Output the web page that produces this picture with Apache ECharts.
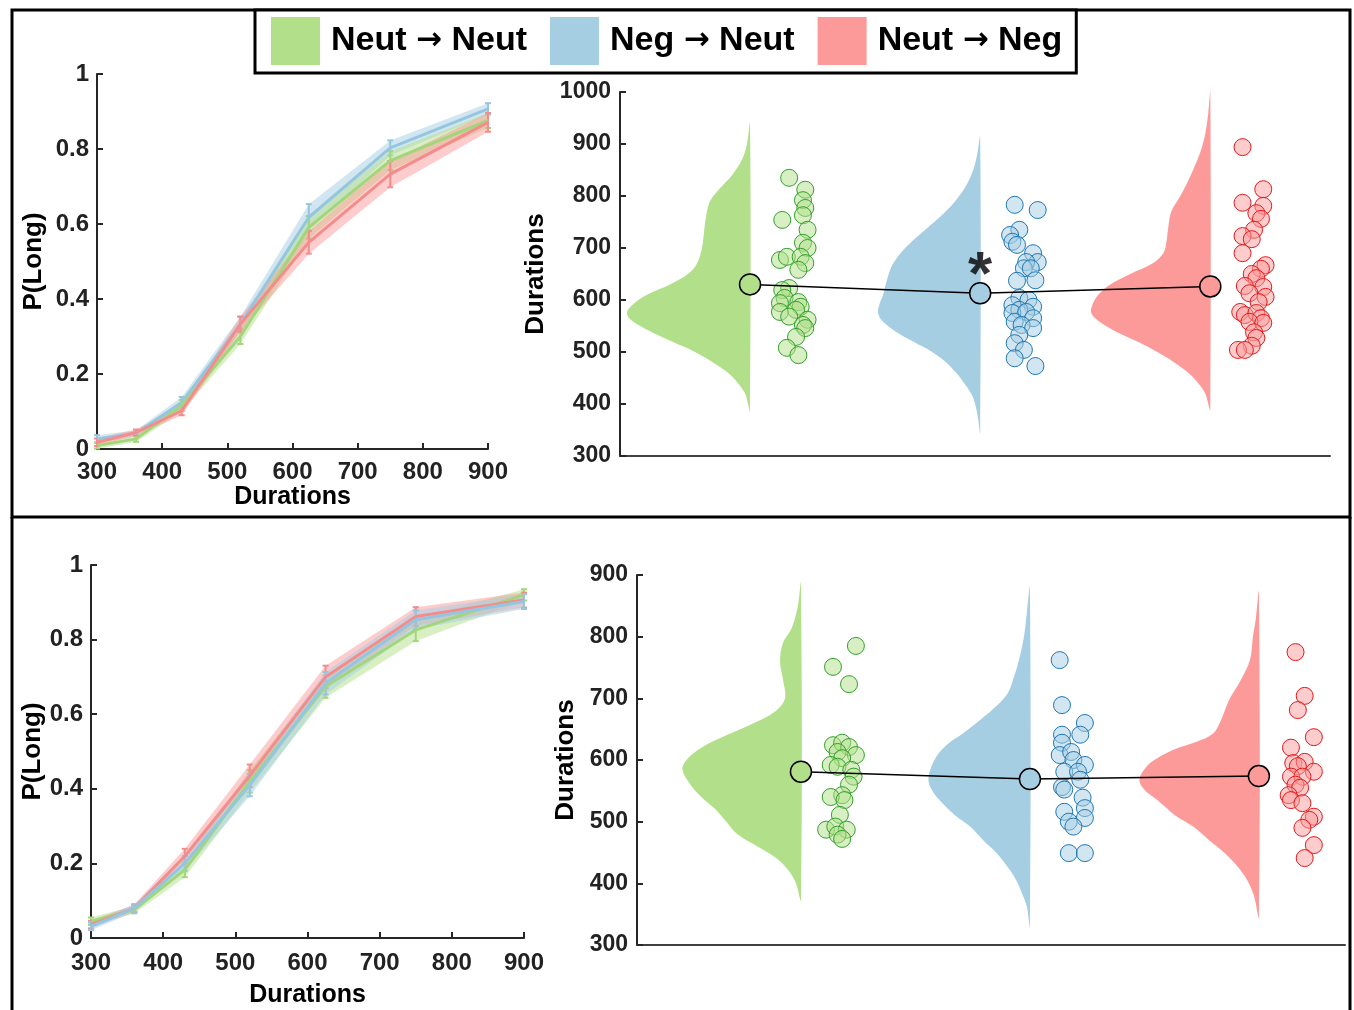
<!DOCTYPE html>
<html>
<head>
<meta charset="utf-8">
<title>Durations</title>
<script src="https://cdn.jsdelivr.net/npm/echarts@6/dist/echarts.min.js"></script>
<style>
  html, body { margin: 0; padding: 0; background: #fff; }
  #main { width: 1354px; height: 1010px; }
</style>
</head>
<body>
<div id="main"></div>
<script>
// conditions
var conditions = ['Neut → Neut', 'Neg → Neut', 'Neut → Neg'];
var lightColors = ['#b2df8a', '#a6cee3', '#fb9a99'];
var darkColors = ['#33a02c', '#1f78b4', '#e31a1c'];
var lineColors = ['#a3d67a', '#95c6e0', '#f58c8c'];
var dotFill = ['rgba(178,223,138,0.5)', 'rgba(166,206,227,0.5)', 'rgba(251,154,153,0.5)'];

// psychometric data (P(Long) by duration)
var durations = [300, 360, 430, 520, 625, 750, 900];
var topNeutNeut = [0.009, 0.027, 0.116, 0.30, 0.591, 0.769, 0.876];
var topNegNeut = [0.027, 0.042, 0.124, 0.333, 0.618, 0.803, 0.907];
var topNeutNeg = [0.018, 0.044, 0.102, 0.333, 0.551, 0.733, 0.871];
var topSemNeutNeut = [0.008, 0.008, 0.015, 0.02, 0.03, 0.025, 0.02];
var topSemNegNeut = [0.01, 0.008, 0.015, 0.02, 0.035, 0.02, 0.015];
var topSemNeutNeg = [0.01, 0.008, 0.012, 0.02, 0.03, 0.035, 0.025];

var botNeutNeut = [0.045, 0.076, 0.183, 0.42, 0.674, 0.826, 0.92];
var botNegNeut = [0.031, 0.08, 0.20, 0.41, 0.683, 0.853, 0.902];
var botNeutNeg = [0.036, 0.08, 0.219, 0.435, 0.70, 0.862, 0.906];
var botSemNeutNeut = [0.01, 0.01, 0.02, 0.03, 0.03, 0.03, 0.015];
var botSemNegNeut = [0.01, 0.01, 0.02, 0.03, 0.03, 0.025, 0.02];
var botSemNeutNeg = [0.01, 0.01, 0.02, 0.03, 0.03, 0.025, 0.02];

// raincloud means
var topMeans = [630, 613, 626];
var botMeans = [581, 569, 574];

// violin density shapes [duration, density]
var topDensNeutNeut = [[940,0],[900,3],[870,8],[840,18],[815,30],[790,40],[760,44],[730,46],[700,48],[670,53],[650,62],[630,80],[610,103],[590,118],[575,123],[560,118],[540,100],[520,78],[500,55],[480,37],[460,22],[440,12],[420,5],[400,2],[385,0]];
var topDensNegNeut = [[913,0],[880,3],[850,7],[820,14],[790,25],[760,40],[730,58],[700,75],[670,87],[640,93],[610,97],[590,101],[575,102],[560,98],[540,85],[520,67],[500,48],[480,34],[460,24],[440,16],[420,9],[400,5],[370,2],[344,0]];
var topDensNeutNeg = [[1000,0],[960,2],[920,5],[890,9],[860,15],[830,22],[800,30],[770,39],[740,42],[710,44],[690,47],[670,58],[650,80],[630,100],[610,112],[590,118],[575,119],[560,112],[540,95],[520,73],[500,53],[480,36],[460,22],[440,12],[420,5],[400,2],[388,0]];
var botDensNeutNeut = [[887,0],[850,3],[815,9],[790,18],[760,21],[730,18],[700,16],[680,25],[660,47],[640,75],[620,100],[600,115],[584,119],[560,111],[540,100],[520,86],[500,75],[480,64],[460,44],[440,24],[420,12],[400,5],[373,0]];
var botDensNegNeut = [[879,0],[840,3],[800,6],[762,11],[730,17],[709,22],[690,32],[665,50],[640,70],[628,81],[610,92],[589,99],[568,102],[550,98],[535,91],[510,75],[492,60],[470,47],[450,34],[430,24],[406,14],[380,7],[362,3],[330,0]];
var botDensNeutNeg = [[872,0],[830,3],[800,6],[762,9],[730,18],[697,30],[665,38],[643,46],[630,62],[616,87],[600,105],[589,113],[568,120],[550,114],[535,102],[510,84],[492,66],[470,50],[450,35],[430,23],[406,12],[380,5],[346,0]];

// individual participants [jitter, duration]
var topPtsNeutNeut = [[0.17,835],[0.24,812],[0.23,792],[0.24,777],[0.23,763],[0.14,754],[0.25,735],[0.23,710],[0.25,700],[0.13,677],[0.16,683],[0.22,683],[0.24,671],[0.21,658],[0.17,623],[0.14,619],[0.15,604],[0.13,594],[0.21,596],[0.22,587],[0.13,577],[0.2,581],[0.17,568],[0.25,562],[0.23,552],[0.24,546],[0.2,529],[0.16,508],[0.21,494]];
var topPtsNegNeut = [[0.15,783],[0.25,773],[0.17,735],[0.13,725],[0.14,712],[0.16,706],[0.23,690],[0.25,673],[0.2,673],[0.19,661],[0.22,661],[0.16,637],[0.24,638],[0.17,604],[0.21,600],[0.14,590],[0.23,587],[0.17,581],[0.14,575],[0.2,577],[0.23,565],[0.15,558],[0.18,552],[0.23,546],[0.17,533],[0.15,517],[0.19,504],[0.15,488],[0.24,473]];
var topPtsNeutNeg = [[0.14,894],[0.23,813],[0.14,787],[0.23,781],[0.2,767],[0.22,756],[0.19,735],[0.14,723],[0.18,717],[0.14,690],[0.24,667],[0.22,660],[0.18,650],[0.2,642],[0.15,627],[0.23,625],[0.17,613],[0.24,606],[0.21,596],[0.13,577],[0.15,571],[0.2,575],[0.22,565],[0.17,558],[0.23,556],[0.19,538],[0.2,527],[0.18,512],[0.12,504],[0.15,504]];
var botPtsNeutNeut = [[0.24,785],[0.14,751],[0.21,723],[0.14,624],[0.18,628],[0.21,621],[0.16,613],[0.24,608],[0.18,603],[0.13,592],[0.16,589],[0.22,584],[0.23,573],[0.21,560],[0.18,543],[0.13,540],[0.19,535],[0.17,511],[0.11,487],[0.15,492],[0.2,487],[0.16,479],[0.18,472]];
var botPtsNegNeut = [[0.13,762],[0.14,689],[0.24,660],[0.22,641],[0.14,641],[0.14,628],[0.13,608],[0.18,613],[0.19,600],[0.24,592],[0.15,581],[0.21,581],[0.22,568],[0.14,556],[0.15,552],[0.23,539],[0.24,522],[0.15,516],[0.24,506],[0.17,500],[0.19,492],[0.17,449],[0.24,449]];
var botPtsNeutNeg = [[0.16,775],[0.2,704],[0.17,681],[0.24,637],[0.14,620],[0.15,595],[0.2,597],[0.17,590],[0.24,581],[0.14,573],[0.19,573],[0.16,560],[0.18,555],[0.13,543],[0.14,535],[0.19,530],[0.24,508],[0.22,503],[0.19,490],[0.24,462],[0.2,441]];

var densScale = 230;
var font = 'Liberation Sans, Arial, sans-serif';
var axisColor = '#262626';

function bandSeries(xi, means, sems, k) {
    return {
        type: 'custom', name: 'band' + xi + k, xAxisIndex: xi, yAxisIndex: xi, silent: true,
        data: [[durations[0], means[0]]],
        renderItem: function (params, api) {
            var upper = durations.map(function (d, i) { return api.coord([d, means[i] + sems[i]]); });
            var lower = durations.map(function (d, i) { return api.coord([d, means[i] - sems[i]]); }).reverse();
            return {type: 'polygon', shape: {points: upper.concat(lower)},
                style: {fill: lightColors[k], opacity: 0.5}};
        }
    };
}

function errSeries(xi, means, sems, k) {
    return {
        type: 'custom', name: 'err' + xi + k, xAxisIndex: xi, yAxisIndex: xi, silent: true,
        data: durations.map(function (d, i) { return [d, means[i] - sems[i], means[i] + sems[i]]; }),
        encode: {x: 0, y: [1, 2]},
        renderItem: function (params, api) {
            var lo = api.coord([api.value(0), api.value(1)]);
            var hi = api.coord([api.value(0), api.value(2)]);
            var st = {stroke: lineColors[k], lineWidth: 2};
            return {type: 'group', children: [
                {type: 'line', shape: {x1: lo[0], y1: lo[1], x2: hi[0], y2: hi[1]}, style: st},
                {type: 'line', shape: {x1: lo[0] - 3, y1: lo[1], x2: lo[0] + 3, y2: lo[1]}, style: st},
                {type: 'line', shape: {x1: hi[0] - 3, y1: hi[1], x2: hi[0] + 3, y2: hi[1]}, style: st}
            ]};
        }
    };
}

function lineSeries(xi, means, k) {
    return {
        type: 'line', name: 'line' + xi + k, xAxisIndex: xi, yAxisIndex: xi, silent: true,
        symbol: 'none',
        data: durations.map(function (d, i) { return [d, means[i]]; }),
        lineStyle: {width: 3, color: lineColors[k]},
        itemStyle: {color: lineColors[k]}
    };
}

function violinSeries(xi, dens, k) {
    var pos = k + 1;
    return {
        type: 'custom', name: conditions[k], xAxisIndex: xi, yAxisIndex: xi, silent: true,
        itemStyle: {color: lightColors[k]},
        data: [[pos, dens[0][0]]],
        renderItem: function (params, api) {
            var pts = dens.map(function (d) { return api.coord([pos - d[1] / densScale, d[0]]); });
            return {type: 'polygon', shape: {points: pts, smooth: 0.35}, style: {fill: lightColors[k]}};
        }
    };
}

function dotSeries(xi, pts, k) {
    var pos = k + 1;
    return {
        type: 'scatter', name: 'pts' + xi + k, xAxisIndex: xi, yAxisIndex: xi, silent: true,
        symbolSize: 17,
        data: pts.map(function (p) { return [pos + p[0], p[1]]; }),
        itemStyle: {color: dotFill[k], borderColor: darkColors[k], borderWidth: 1, opacity: 1}
    };
}

function meanSeries(xi, means) {
    return {
        type: 'line', name: 'mean' + xi, xAxisIndex: xi, yAxisIndex: xi, silent: true, z: 5,
        symbol: 'circle', symbolSize: 21,
        data: means.map(function (m, i) {
            return {value: [i + 1, m], itemStyle: {color: lightColors[i]}};
        }),
        lineStyle: {color: '#000', width: 1.5},
        itemStyle: {borderColor: '#000', borderWidth: 1.5}
    };
}

function psyX(gi, gap, margin) {
    return {
        type: 'value', gridIndex: gi, min: 300, max: 900, interval: 100,
        name: 'Durations', nameLocation: 'middle', nameGap: gap,
        nameTextStyle: {fontFamily: font, fontWeight: 'bold', fontSize: 25, color: '#000'},
        axisLine: {lineStyle: {color: axisColor, width: 2}},
        axisTick: {inside: true, length: 6, lineStyle: {color: axisColor, width: 2}},
        axisLabel: {fontFamily: font, fontWeight: 'bold', fontSize: 24, color: '#222', margin: margin},
        splitLine: {show: false}
    };
}

function psyY(gi, gap) {
    return {
        type: 'value', gridIndex: gi, min: 0, max: 1, interval: 0.2,
        name: 'P(Long)', nameLocation: 'middle', nameGap: gap,
        nameTextStyle: {fontFamily: font, fontWeight: 'bold', fontSize: 26, color: '#000'},
        axisLine: {show: true, lineStyle: {color: axisColor, width: 2}},
        axisTick: {show: true, inside: true, length: 6, lineStyle: {color: axisColor, width: 2}},
        axisLabel: {fontFamily: font, fontWeight: 'bold', fontSize: 24, color: '#222', margin: 8},
        splitLine: {show: false}
    };
}

function rainX(gi, min, max) {
    return {
        type: 'value', gridIndex: gi, min: min, max: max,
        axisLine: {lineStyle: {color: '#404040', width: 2}},
        axisTick: {show: false}, axisLabel: {show: false}, splitLine: {show: false}
    };
}

function rainY(gi, max, gap) {
    return {
        type: 'value', gridIndex: gi, min: 300, max: max, interval: 100,
        name: 'Durations', nameLocation: 'middle', nameGap: gap,
        nameTextStyle: {fontFamily: font, fontWeight: 'bold', fontSize: 26, color: '#000'},
        axisLine: {show: true, lineStyle: {color: axisColor, width: 2}},
        axisTick: {show: true, inside: true, length: 6, lineStyle: {color: axisColor, width: 2}},
        axisLabel: {fontFamily: font, fontWeight: 'bold', fontSize: 23, color: '#222', margin: 9,
            formatter: function (v) { return String(v); }},
        splitLine: {show: false}
    };
}

var series = [];
// top psychometric: blue, green, red (red on top)
[[1, topNegNeut, topSemNegNeut], [0, topNeutNeut, topSemNeutNeut], [2, topNeutNeg, topSemNeutNeg]].forEach(function (c) {
    series.push(bandSeries(0, c[1], c[2], c[0]));
    series.push(errSeries(0, c[1], c[2], c[0]));
    series.push(lineSeries(0, c[1], c[0]));
});
// bottom psychometric: green, red, blue
[[0, botNeutNeut, botSemNeutNeut], [2, botNeutNeg, botSemNeutNeg], [1, botNegNeut, botSemNegNeut]].forEach(function (c) {
    series.push(bandSeries(2, c[1], c[2], c[0]));
    series.push(errSeries(2, c[1], c[2], c[0]));
    series.push(lineSeries(2, c[1], c[0]));
});

var topDens = [topDensNeutNeut, topDensNegNeut, topDensNeutNeg];
var botDens = [botDensNeutNeut, botDensNegNeut, botDensNeutNeg];
var topPts = [topPtsNeutNeut, topPtsNegNeut, topPtsNeutNeg];
var botPts = [botPtsNeutNeut, botPtsNegNeut, botPtsNeutNeg];
for (var k = 0; k < 3; k++) {
    series.push(violinSeries(1, topDens[k], k));
    series.push(violinSeries(3, botDens[k], k));
}
for (var k = 0; k < 3; k++) {
    series.push(dotSeries(1, topPts[k], k));
    series.push(dotSeries(3, botPts[k], k));
}
series.push(meanSeries(1, topMeans));
series.push(meanSeries(3, botMeans));

// significance marker above Neg -> Neut mean (top panel)
series.push({
    type: 'scatter', name: 'sig', xAxisIndex: 1, yAxisIndex: 1, silent: true, z: 6,
    symbolSize: 1, itemStyle: {color: 'rgba(0,0,0,0)'},
    data: [[2, 644]],
    label: {show: true, position: 'inside', formatter: '*', fontFamily: font,
        fontWeight: 'bold', fontSize: 62, color: '#000'}
});

var chart = echarts.init(document.getElementById('main'), null, {renderer: 'canvas'});
chart.setOption({
    backgroundColor: '#fff',
    animation: false,
    legend: {
        data: conditions, left: 255, top: 10, z: 20,
        icon: 'rect', itemWidth: 49, itemHeight: 48, itemGap: 23,
        backgroundColor: '#fff', borderColor: '#000', borderWidth: 3,
        padding: [7, 14, 8, 16],
        selectedMode: false,
        formatter: function (name) {
            var parts = name.split(' → ');
            return '{t|' + parts[0] + '} {a|→} {t|' + parts[1] + '}';
        },
        textStyle: {
            fontFamily: font, fontWeight: 'bold', fontSize: 34, color: '#000',
            padding: [0, 0, 0, 6],
            rich: {
                t: {fontFamily: font, fontWeight: 'bold', fontSize: 34, color: '#000'},
                a: {fontFamily: 'DejaVu Sans', fontWeight: 'bold', fontSize: 31, color: '#000'}
            }
        }
    },
    graphic: [
        {type: 'rect', z: 0, silent: true, shape: {x: 12, y: 10, width: 1338, height: 507},
            style: {fill: null, stroke: '#000', lineWidth: 3}},
        {type: 'line', z: 0, silent: true, shape: {x1: 12, y1: 517, x2: 12, y2: 1012},
            style: {stroke: '#000', lineWidth: 3}},
        {type: 'line', z: 0, silent: true, shape: {x1: 1350, y1: 517, x2: 1350, y2: 1012},
            style: {stroke: '#000', lineWidth: 3}}
    ],
    grid: [
        {left: 97, top: 74, width: 391, height: 375},
        {left: 620, top: 92, width: 710, height: 364},
        {left: 91, top: 565, width: 433, height: 373},
        {left: 637, top: 575, width: 708, height: 370}
    ],
    xAxis: [
        psyX(0, 36, 11),
        rainX(1, 0.435, 3.52),
        psyX(2, 45, 13),
        rainX(3, 0.284, 3.376)
    ],
    yAxis: [
        psyY(0, 50),
        rainY(1, 1000, 56),
        psyY(2, 45),
        rainY(3, 900, 58)
    ],
    series: series
});
</script>
</body>
</html>
